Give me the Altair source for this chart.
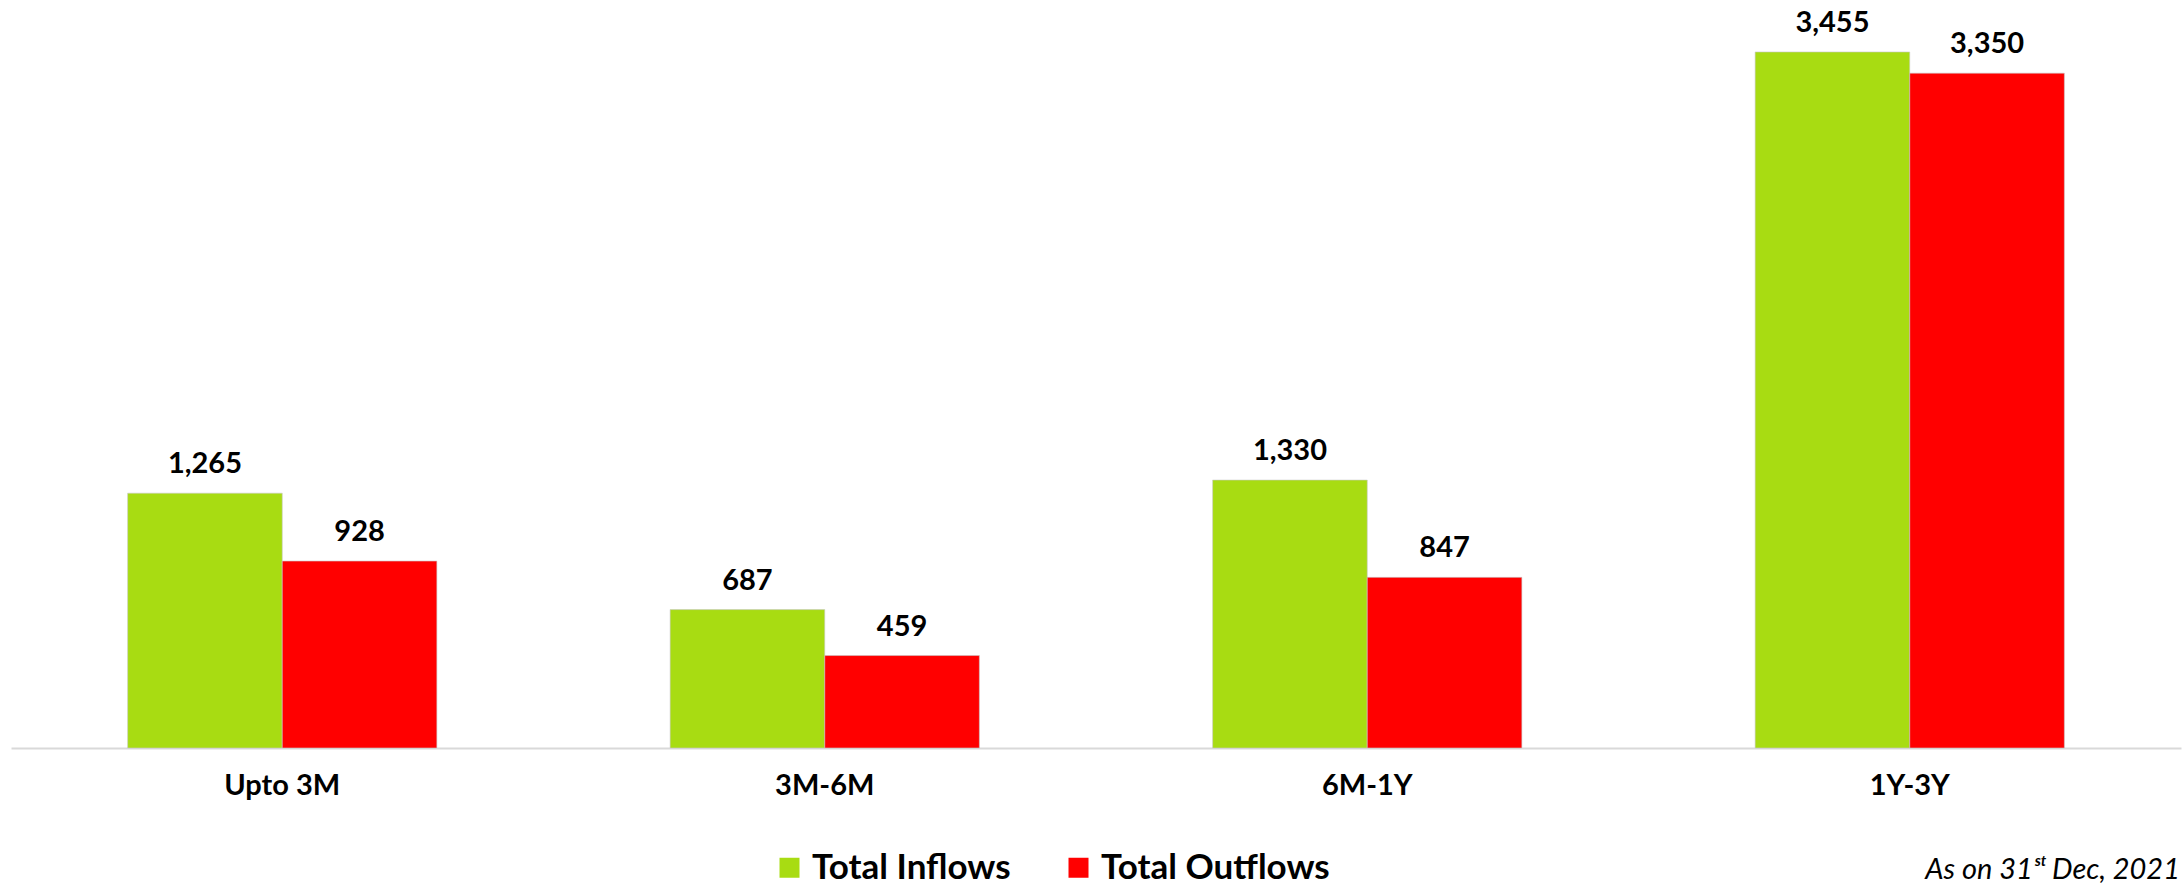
import altair as alt
import pandas as pd

categories = ["Upto 3M", "3M-6M", "6M-1Y", "1Y-3Y"]
inflows = [1265, 687, 1330, 3455]
outflows = [928, 459, 847, 3350]
series = ["Total Inflows", "Total Outflows"]
colors = ["#A8DC12", "#FF0000"]

rows = []
for c, i, o in zip(categories, inflows, outflows):
    rows.append({"cat": c, "series": series[0], "value": i, "label": f"{i:,}"})
    rows.append({"cat": c, "series": series[1], "value": o, "label": f"{o:,}"})
df = pd.DataFrame(rows)

FONT = "Lato"

x = alt.X("cat:N", sort=categories, title=None,
          scale=alt.Scale(paddingInner=0.43, paddingOuter=0.215),
          axis=alt.Axis(labelAngle=0, labelFont=FONT, labelFontSize=29, labelFontWeight="bold",
                        labelColor="#000000", labelPadding=23, ticks=False, grid=False,
                        domainColor="#D9D9D9", domainWidth=2))
xo = alt.XOffset("series:N", sort=series, scale=alt.Scale(paddingInner=0, paddingOuter=0))
y = alt.Y("value:Q", scale=alt.Scale(domain=[0, 3713], nice=False), axis=None)

base = alt.Chart(df).encode(x=x, xOffset=xo, y=y)

bars = base.mark_bar(stroke="#C8C8C8", strokeWidth=1, strokeOpacity=0.6).encode(
    color=alt.Color("series:N", sort=series, title=None,
                    scale=alt.Scale(domain=series, range=colors),
                    legend=alt.Legend(orient="none", legendX=761, legendY=850, direction="horizontal",
                                      symbolType="square", symbolSize=400, symbolStrokeWidth=0,
                                      labelFont=FONT, labelFontSize=35, labelFontWeight="bold",
                                      labelColor="#000000", labelOffset=5, columnPadding=50,
                                      padding=0, labelLimit=400))
)

text = base.mark_text(font=FONT, fontSize=29, fontWeight="bold", color="#000000",
                      baseline="alphabetic", dy=-20).encode(text="label:N")

note = alt.Chart(pd.DataFrame({"t": ["As on 31ˢᵗ Dec, 2021"]})).mark_text(
    font=FONT, fontSize=29, fontStyle="italic", color="#000000", align="right", baseline="alphabetic"
).encode(x=alt.value(2169), y=alt.value(879), text="t:N")

chart = alt.layer(bars, text, note).properties(
    width=2170, height=748,
    background="#FFFFFF",
    padding={"left": 11, "top": 0, "right": 3, "bottom": 0},
).configure_view(stroke=None)

chart.save("out.html", embed_options={"renderer": "svg", "actions": False})
